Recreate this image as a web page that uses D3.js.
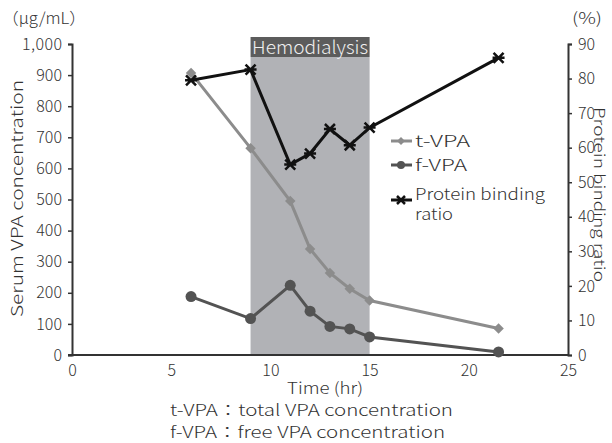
<!DOCTYPE html>
<html><head><meta charset="utf-8">
<script src="https://cdn.jsdelivr.net/npm/d3@7"></script>
<style>
html,body{margin:0;padding:0;background:#fff;}
text{font-family:"Noto Sans CJK JP","Noto Sans",sans-serif;fill:#333;font-weight:300;}
</style></head>
<body><svg id="c" width="612" height="443"></svg>
<script>
const times = [6, 9, 11, 12, 13, 14, 15, 21.5];
const tVPA = [907, 665, 495, 341, 264, 213, 175, 85];
const fVPA = [188, 117, 224, 141, 92, 84, 58, 10];
const binding = [79.5, 82.6, 55.1, 58.3, 65.4, 60.7, 65.8, 86.0];
const xTicks = [0, 5, 10, 15, 20, 25];
const yLeftTicks = [0, 100, 200, 300, 400, 500, 600, 700, 800, 900, 1000];
const yRightTicks = [0, 10, 20, 30, 40, 50, 60, 70, 80, 90];
const dialysis = [9, 15];
const legendLabels = ["t-VPA", "f-VPA", "Protein binding", "ratio"];
const footnotes = ["t-VPA：total VPA concentration", "f-VPA：free VPA concentration"];

const svg = d3.select("#c");
const L = 72, R = 568, T = 44, B = 355;
const x = d3.scaleLinear().domain([0, 25]).range([L, R]);
const yl = d3.scaleLinear().domain([0, 1000]).range([B, T]);
const yr = d3.scaleLinear().domain([0, 90]).range([B, T]);

function label(sel, txt, len) {
  const t = sel.append("text").attr("font-size", 16).text(txt);
  if (len) t.attr("textLength", len).attr("lengthAdjust", "spacingAndGlyphs");
  return t;
}

// dialysis shading
svg.append("rect").attr("x", x(dialysis[0])).attr("y", 57)
  .attr("width", x(dialysis[1]) - x(dialysis[0])).attr("height", B - 57)
  .attr("fill", "#b1b2b6");
svg.append("rect").attr("x", x(dialysis[0])).attr("y", 37)
  .attr("width", x(dialysis[1]) - x(dialysis[0])).attr("height", 20)
  .attr("fill", "#5c5c5c");
label(svg, "Hemodialysis", 116).attr("x", (x(dialysis[0]) + x(dialysis[1])) / 2).attr("y", 54)
  .attr("text-anchor", "middle").attr("font-size", 18).style("fill", "#f0f0f0");

// axes
const fmt = d => d === 1000 ? "1,000" : String(d);
const gl = svg.append("g").attr("transform", `translate(${L},0)`)
  .call(d3.axisLeft(yl).tickValues(yLeftTicks).tickFormat(fmt).tickSize(4).tickPadding(6));
const gr = svg.append("g").attr("transform", `translate(${R},0)`)
  .call(d3.axisRight(yr).tickValues(yRightTicks).tickSize(4).tickPadding(6));
const gx = svg.append("g").attr("transform", `translate(0,${B})`)
  .call(d3.axisBottom(x).tickValues(xTicks).tickSize(0).tickPadding(9));
[gl, gr, gx].forEach(g => {
  g.selectAll("text").attr("font-size", 16).style("font-family", '"Noto Sans CJK JP",sans-serif')
    .style("font-weight", 300).style("fill", "#333");
  g.selectAll("line").attr("stroke", "#333").attr("stroke-width", 1.5);
  g.select(".domain").attr("stroke", "#333").attr("stroke-width", 2);
});
gl.selectAll(".tick text").filter(d => d === 1000).attr("textLength", 40).attr("lengthAdjust", "spacing");
gx.select(".domain").attr("d", `M${L - 4},0H${R}`);
gx.selectAll("text").attr("dy", "0.75em");

// unit labels and titles
label(svg, "（μg/mL）", 84).attr("x", 2).attr("y", 24);
label(svg, "(%)", 30).attr("x", 572).attr("y", 24);
label(svg, "Serum VPA concentration", 237).attr("transform", "translate(23,198.5) rotate(-90)")
  .attr("text-anchor", "middle");
label(svg, "Protein binding ratio", 175).attr("transform", "translate(594,194.5) rotate(90)")
  .attr("text-anchor", "middle").attr("font-size", 15);
label(svg, "Time (hr)", 76).attr("x", 325).attr("y", 394).attr("text-anchor", "middle");
const footLen = [283, 275];
const footY = [416, 438];
footnotes.forEach((f, i) => {
  label(svg, f, footLen[i]).attr("x", 170).attr("y", footY[i]);
});

// series
const lineL = d3.line().x((d, i) => x(times[i])).y(d => yl(d));
const lineR = d3.line().x((d, i) => x(times[i])).y(d => yr(d));
const cT = "#8c8c8c", cF = "#535353", cP = "#111111";

svg.append("path").datum(tVPA).attr("d", lineL).attr("fill", "none").attr("stroke", cT).attr("stroke-width", 3);
svg.append("g").selectAll("path").data(tVPA).join("path")
  .attr("transform", (d, i) => `translate(${x(times[i])},${yl(d)})`)
  .attr("d", d3.symbol(d3.symbolDiamond2, 70)).attr("fill", cT);

svg.append("path").datum(fVPA).attr("d", lineL).attr("fill", "none").attr("stroke", cF).attr("stroke-width", 3);
svg.append("g").selectAll("circle").data(fVPA).join("circle")
  .attr("cx", (d, i) => x(times[i])).attr("cy", d => yl(d)).attr("r", 5.5).attr("fill", cF);

const star = "M-5,-5L5,5M-5,5L5,-5M-6,0H6";
svg.append("path").datum(binding).attr("d", lineR).attr("fill", "none").attr("stroke", cP).attr("stroke-width", 3);
svg.append("g").selectAll("path").data(binding).join("path")
  .attr("transform", (d, i) => `translate(${x(times[i])},${yr(d)})`)
  .attr("d", star).attr("stroke", cP).attr("stroke-width", 2.5).attr("fill", "none");

// legend
const lg = svg.append("g");
const ly = [141, 165, 200];
lg.append("line").attr("x1", 391).attr("x2", 412).attr("y1", ly[0]).attr("y2", ly[0]).attr("stroke", cT).attr("stroke-width", 3);
lg.append("path").attr("transform", `translate(401,${ly[0]})`).attr("d", d3.symbol(d3.symbolDiamond2, 40)).attr("fill", cT);
lg.append("line").attr("x1", 391).attr("x2", 412).attr("y1", ly[1]).attr("y2", ly[1]).attr("stroke", cF).attr("stroke-width", 3);
lg.append("circle").attr("cx", 401).attr("cy", ly[1]).attr("r", 4).attr("fill", cF);
lg.append("line").attr("x1", 391).attr("x2", 412).attr("y1", ly[2]).attr("y2", ly[2]).attr("stroke", cP).attr("stroke-width", 3);
lg.append("path").attr("transform", `translate(401,${ly[2]})`).attr("d", "M-4,-4L4,4M-4,4L4,-4").attr("stroke", cP).attr("stroke-width", 2.5);
label(lg, legendLabels[0], 55).attr("x", 415).attr("y", 147);
label(lg, legendLabels[1], 52).attr("x", 415).attr("y", 171);
label(lg, legendLabels[2], 130).attr("x", 415).attr("y", 200);
label(lg, legendLabels[3], 38).attr("x", 415).attr("y", 220);
</script></body></html>
